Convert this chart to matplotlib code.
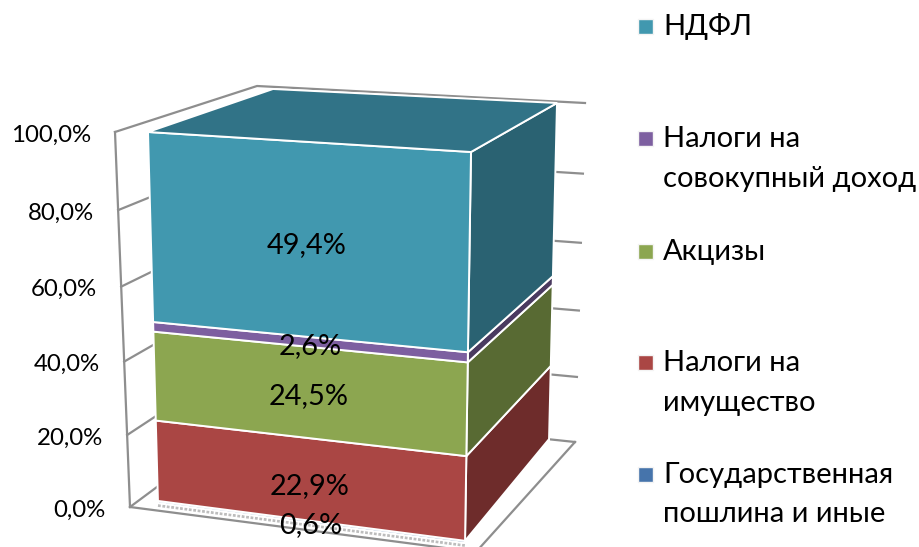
import numpy as np
import matplotlib
matplotlib.use('Agg')
from matplotlib import pyplot as plt
from matplotlib.patches import Polygon, Rectangle

# values, bottom to top
series = ['Государственная\nпошлина и иные\nналоговые платежи', 'Налоги на\nимущество', 'Акцизы',
          'Налоги на\nсовокупный доход', 'НДФЛ']
values = [0.6, 22.9, 24.5, 2.6, 49.4]
value_labels = ['0,6%', '22,9%', '24,5%', '2,6%', '49,4%']
tick_values = [0, 20, 40, 60, 80, 100]
tick_labels = ['0,0%', '20,0%', '40,0%', '60,0%', '80,0%', '100,0%']

front_colors = ['#4674AB', '#AA4644', '#8CA650', '#7D5FA0', '#4198AF']
side_colors = ['#2F4F75', '#6E2C2B', '#586A33', '#4A3A60', '#2A6272']
top_color = '#317387'
grid_color = '#8E8E8E'

plt.rcParams['font.family'] = ['Lato', 'Open Sans', 'DejaVu Sans']

fig = plt.figure(figsize=(9.2, 5.47), dpi=100)
ax = fig.add_axes([0, 0, 1, 1])
ax.set_xlim(0, 920)
ax.set_ylim(547, 0)
ax.axis('off')


def proj(bottom, top, v, w=0.93):
    # point on a vertical box edge, with perspective foreshortening
    t = v / 100.0
    s = t * w / ((1 - t) + t * w)
    return (bottom[0] + (top[0] - bottom[0]) * s, bottom[1] + (top[1] - bottom[1]) * s)


# bar box edges (bottom, top)
fl = ((158, 503), (148, 132))
fr = ((465, 543), (471, 152))
br = ((549, 441), (557, 103))
bl = ((266, 405), (273, 89))
# walls
wall_l = ((130, 507), (115, 132))
wall_b = ((262, 409), (257, 86))
wall_r = ((575, 442), (585, 103))
floor_front = (476, 552)

# walls and gridlines
for v in tick_values:
    pts = [proj(*wall_l, v, 0.95), proj(*wall_b, v, 0.95), proj(*wall_r, v, 0.95)]
    ax.plot(*zip(*pts), color=grid_color, lw=1.6, zorder=1)
ax.plot(*zip(wall_l[0], wall_l[1]), color=grid_color, lw=1.6, zorder=1)
ax.plot(*zip(wall_l[0], floor_front, wall_r[0]), color=grid_color, lw=1.6, zorder=1)
for v, lab in zip(tick_values, tick_labels):
    x, y = proj(*wall_l, v, 0.95)
    ax.text(x - 24, y + 3, lab, ha='right', va='center', fontsize=17.3, color='black')

# shadow under the bar
ax.plot(*zip((158, 505.5), (465, 545.5)), color='#BDBDBD', lw=2, ls=(0, (1, 0.6)), zorder=2)

# stacked bar faces
tops = np.cumsum(values)
bottoms = tops - np.array(values)
for i in range(len(values)):
    lo, hi = bottoms[i], tops[i]
    front = [proj(*fl, lo), proj(*fr, lo), proj(*fr, hi), proj(*fl, hi)]
    side = [proj(*fr, lo), proj(*br, lo), proj(*br, hi), proj(*fr, hi)]
    # the thin bottom segment is almost swallowed by its white edge
    ax.add_patch(Polygon(side, fc=side_colors[i], ec='white', lw=1.4, zorder=3))
    ax.add_patch(Polygon(front, fc=front_colors[i], ec='white', lw=1.4, zorder=3))
top = [proj(*fl, tops[-1]), proj(*fr, tops[-1]), proj(*br, tops[-1]), proj(*bl, tops[-1])]
ax.add_patch(Polygon(top, fc=top_color, ec='white', lw=1.4, zorder=3))

# data labels
label_x = [311, 310, 309, 310, 307]
label_dy = [3, 6, 3, 4, 4]
for i, lab in enumerate(value_labels):
    mid = (bottoms[i] + tops[i]) / 2
    y = (proj(*fl, mid)[1] + proj(*fr, mid)[1]) / 2
    ax.text(label_x[i], y + label_dy[i], lab, ha='center', va='center', fontsize=20.8,
            color='black', zorder=5)

# legend
legend_y = [474, 362, 251, 138, 26]
for i, name in enumerate(series):
    y0 = legend_y[i]
    ax.add_patch(Rectangle((638, y0 - 7), 15, 15, fc=front_colors[i], ec='#F4F4F4', lw=1, zorder=4))
    for k, line in enumerate(name.split('\n')):
        ax.text(663, y0 + 9 + k * 39.5, line, ha='left', va='baseline', fontsize=21, color='black')

fig.savefig('out.png', dpi=100)
